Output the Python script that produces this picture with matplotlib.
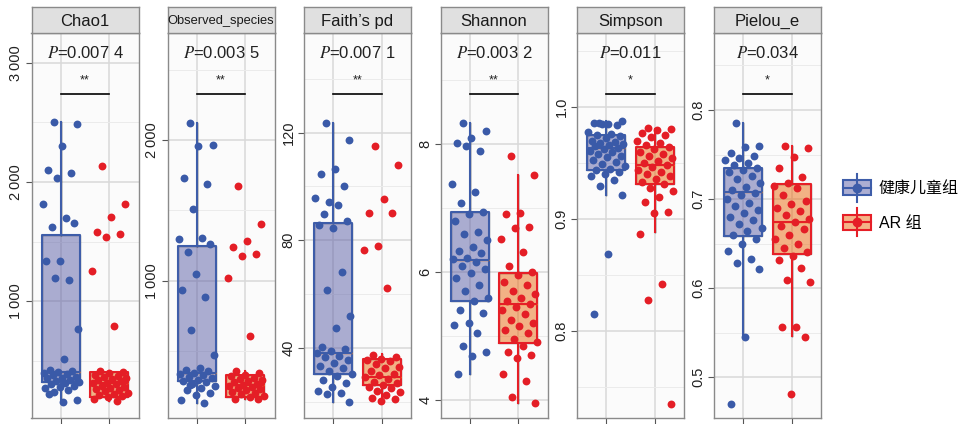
"""Alpha diversity boxplots: healthy children vs AR group."""

import matplotlib

matplotlib.use("Agg")
import matplotlib.pyplot as plt
import matplotlib.transforms as mtransforms
import numpy as np
from matplotlib.legend_handler import HandlerBase
from matplotlib.lines import Line2D
from matplotlib.patches import Rectangle

plt.rcParams["font.family"] = ["Liberation Sans", "Noto Sans CJK SC", "DejaVu Sans"]
plt.rcParams["mathtext.fontset"] = "stix"

# ---- data ----
metrics = ["Chao1", "Observed_species", "Faith\u2019s pd", "Shannon", "Simpson", "Pielou_e"]
group_labels = ["健康儿童组", "AR 组"]
p_labels = ["0.007 4", "0.003 5", "0.007 1", "0.003 2", "0.011", "0.034"]
sig_labels = ["**", "**", "**", "**", "*", "*"]

chao1_healthy = [2504, 2487, 2303, 2101, 2076, 2034, 1815, 1698, 1622, 1656, 1336, 1340, 1176,
                 1193, 765, 513, 420, 410, 400, 395, 385, 375, 365, 355, 350, 340, 330, 320,
                 310, 300, 290, 280, 265, 250, 235, 168, 151, 220]
chao1_ar = [2134, 1815, 1706, 1580, 1563, 1538, 1252, 790, 415, 405, 395, 380, 370, 360, 350,
            345, 335, 325, 315, 310, 300, 290, 280, 270, 260, 250, 240, 230, 220, 210, 200,
            190, 175, 160]
obs_healthy = [2121, 1965, 1957, 1730, 1688, 1511, 1298, 1305, 1206, 1260, 1050, 936, 887, 652,
               475, 380, 370, 360, 350, 340, 330, 320, 310, 300, 290, 280, 270, 255, 240, 225,
               206, 190, 156, 135, 260]
obs_ar = [1674, 1404, 1284, 1241, 1191, 1177, 1021, 610, 360, 345, 335, 325, 315, 305, 300, 290,
          280, 272, 265, 258, 250, 240, 232, 225, 215, 205, 195, 185, 175, 165, 160]
faith_healthy = [123.7, 117.4, 106.6, 104.7, 100.3, 94.3, 95.8, 93.2, 89.9, 87.3, 84.7, 85.8,
                 68.3, 61.6, 52.0, 47.5, 40.5, 39.5, 38.8, 38.0, 37.2, 36.5, 35.5, 34.4, 33.5,
                 32.5, 31.5, 30.5, 29.5, 28.0, 27.0, 25.5, 24.0, 23.3, 23.0, 20.0]
faith_ar = [115, 108, 95.4, 90, 90, 78, 76.5, 62.3, 37.5, 36.8, 36, 35.5, 35, 34, 33, 32.5, 31.5,
            30.5, 30, 29.2, 28.5, 27.5, 27, 26.3, 25.5, 25, 24, 23.5, 22.5, 21.5, 21, 20.2]
shannon_healthy = [8.33, 8.2, 8.09, 8.02, 7.89, 7.97, 7.38, 7.25, 7.08, 6.94, 6.9, 6.8, 6.62,
                   6.59, 6.5, 6.39, 6.33, 6.3, 6.22, 6.2, 6.15, 6.1, 6.05, 5.98, 5.9, 5.8, 5.7,
                   5.6, 5.55, 5.41, 5.36, 5.2, 5.17, 5.05, 4.84, 4.75, 4.69, 4.41]
shannon_ar = [7.81, 7.52, 6.92, 6.90, 6.70, 6.68, 6.52, 6.31, 6.1, 6.0, 5.95, 5.85, 5.8, 5.7,
              5.65, 5.6, 5.55, 5.5, 5.45, 5.4, 5.35, 5.25, 5.2, 5.15, 5.1, 5.05, 4.95, 4.9,
              4.85, 4.75, 4.7, 4.65, 4.4, 4.3, 4.05, 3.95]
simpson_healthy = [0.986, 0.987, 0.985, 0.986, 0.984, 0.985, 0.978, 0.976, 0.975, 0.974, 0.972,
                   0.970, 0.969, 0.968, 0.967, 0.966, 0.965, 0.963, 0.962, 0.961, 0.960, 0.958,
                   0.956, 0.955, 0.953, 0.951, 0.949, 0.947, 0.945, 0.944, 0.942, 0.940, 0.938,
                   0.935, 0.929, 0.921, 0.869, 0.815]
simpson_ar = [0.981, 0.980, 0.979, 0.977, 0.975, 0.973, 0.970, 0.968, 0.966, 0.964, 0.962, 0.960,
              0.958, 0.956, 0.954, 0.952, 0.950, 0.948, 0.946, 0.944, 0.942, 0.940, 0.938, 0.936,
              0.933, 0.931, 0.928, 0.925, 0.920, 0.915, 0.906, 0.905, 0.887, 0.842, 0.828, 0.735]
pielou_healthy = [0.785, 0.760, 0.758, 0.752, 0.748, 0.746, 0.744, 0.740, 0.738, 0.735, 0.733,
                  0.730, 0.726, 0.722, 0.718, 0.714, 0.710, 0.707, 0.704, 0.700, 0.696, 0.692,
                  0.688, 0.684, 0.680, 0.676, 0.672, 0.668, 0.664, 0.660, 0.655, 0.650, 0.642,
                  0.633, 0.628, 0.621, 0.545, 0.470]
pielou_ar = [0.760, 0.757, 0.747, 0.735, 0.725, 0.718, 0.715, 0.712, 0.705, 0.698, 0.694, 0.690,
             0.686, 0.682, 0.678, 0.674, 0.670, 0.666, 0.660, 0.655, 0.650, 0.645, 0.640, 0.636,
             0.632, 0.622, 0.609, 0.607, 0.556, 0.556, 0.545, 0.481]

healthy_values = [chao1_healthy, obs_healthy, faith_healthy, shannon_healthy, simpson_healthy,
                  pielou_healthy]
ar_values = [chao1_ar, obs_ar, faith_ar, shannon_ar, simpson_ar, pielou_ar]

# box stats as drawn: (q1, median, q3, whisker low, whisker high)
healthy_box = [(320, 400, 1555, 150, 2500), (290, 345, 1248, 135, 2121),
               (30.4, 38.2, 86.5, 20, 123.7), (5.55, 6.19, 6.94, 4.41, 8.33),
               (0.944, 0.963, 0.975, 0.921, 0.987), (0.658, 0.708, 0.735, 0.545, 0.785)]
ar_box = [(193, 311, 404, 160, 415), (177, 262, 333, 160, 360),
          (26.3, 29.2, 36.0, 20, 37.8), (4.89, 5.50, 5.98, 3.95, 7.52),
          (0.931, 0.948, 0.964, 0.888, 0.980), (0.638, 0.674, 0.717, 0.546, 0.760)]

y_limits = [(17, 3252), (28, 2759), (14, 157), (3.72, 9.73), (0.7223, 1.066), (0.454, 0.8865)]
major_ticks = [[1000, 2000, 3000], [1000, 2000], [40, 80, 120], [4, 6, 8], [0.8, 0.9, 1.0],
               [0.5, 0.6, 0.7, 0.8]]
tick_labels = [["1\u2009000", "2\u2009000", "3\u2009000"], ["1\u2009000", "2\u2009000"],
               ["40", "80", "120"], ["4", "6", "8"], ["0.8", "0.9", "1.0"],
               ["0.5", "0.6", "0.7", "0.8"]]
minor_ticks = [[500, 1500, 2500], [500, 1500, 2500], [20, 60, 100, 140], [5, 7, 9],
               [0.75, 0.85, 0.95, 1.05], [0.55, 0.65, 0.75, 0.85]]

edge_colors = ["#3e5da9", "#e61f27"]
fill_colors = ["#5b5ea6", "#ea6a10"]
point_colors = ["#3a5aa8", "#e41e26"]


class BoxHandler(HandlerBase):
    """Legend glyph: small box with median, whisker and a dot."""

    def __init__(self, edge, fill):
        super().__init__()
        self.edge = edge
        self.fill = fill

    def create_artists(self, legend, orig_handle, xdescent, ydescent, width, height,
                       fontsize, trans):
        bh = height * 0.8
        y0 = -ydescent + (height - bh) / 2
        rect = Rectangle((-xdescent, y0), width, bh, facecolor=self.fill, alpha=0.5,
                         edgecolor="none", transform=trans)
        rect_edge = Rectangle((-xdescent, y0), width, bh, facecolor="none",
                              edgecolor=self.edge, lw=1.5, transform=trans)
        cx = -xdescent + width / 2
        cy = -ydescent + height / 2
        whisk = Line2D([cx, cx], [cy - height * 0.75, cy + height * 0.75], color=self.edge,
                       lw=1.5, transform=trans)
        med = Line2D([-xdescent, -xdescent + width], [cy, cy], color=self.edge, lw=1.5,
                     transform=trans)
        dot = Line2D([cx], [cy], marker="o", ms=6, color=self.edge, transform=trans)
        return [rect, rect_edge, whisk, med, dot]


fig = plt.figure(figsize=(9.58, 4.24), dpi=100)
W, H = 958, 424
panel_left = [31.5, 167.5, 304, 440.5, 577, 714]
panel_w = 107
plot_top, plot_bottom, strip_top = 33, 418, 7

for i, metric in enumerate(metrics):
    ax = fig.add_axes([panel_left[i] / W, 1 - plot_bottom / H, panel_w / W,
                       (plot_bottom - plot_top) / H])
    ax.set_facecolor("#fbfbfb")
    ax.set_ylim(*y_limits[i])
    ax.set_yticks(major_ticks[i])
    ax.set_yticklabels(tick_labels[i], rotation=90, va="center")
    ax.set_yticks(minor_ticks[i], minor=True)
    ax.grid(which="major", color="#d9d9d9", lw=1.1)
    ax.grid(which="minor", axis="y", color="#ebebeb", lw=0.7)
    ax.set_axisbelow(True)
    ax.tick_params(axis="y", which="major", length=4, width=0.8, color="#555555",
                   labelsize=10.5, pad=2, labelcolor="#222222")
    ax.tick_params(axis="y", which="minor", length=0)
    ax.tick_params(axis="x", length=5, width=0.8, color="#555555")
    for sp in ax.spines.values():
        sp.set_color("#8a8a8a")
        sp.set_linewidth(1.0)

    for g, (vals, box) in enumerate(zip([healthy_values[i], ar_values[i]],
                                        [healthy_box[i], ar_box[i]])):
        q1, med, q3, lo, hi = box
        stats = [{"q1": q1, "med": med, "q3": q3, "whislo": lo, "whishi": hi, "fliers": []}]
        bp = ax.bxp(stats, positions=[g + 1], widths=0.78, patch_artist=True,
                    showcaps=False, showfliers=False)
        for patch in bp["boxes"]:
            patch.set_facecolor(fill_colors[g])
            patch.set_alpha(0.5)
        ax.bxp(stats, positions=[g + 1], widths=0.78, showcaps=False, showfliers=False,
               boxprops={"color": edge_colors[g], "lw": 1.5},
               whiskerprops={"color": edge_colors[g], "lw": 1.5},
               medianprops={"color": edge_colors[g], "lw": 1.5})
        vals = np.asarray(vals)
        offs = ((np.arange(len(vals)) * 0.618034 + 0.31) % 1 - 0.5) * 0.76
        ax.scatter(g + 1 + offs, vals, s=32, color=point_colors[g], zorder=4, linewidths=0)
    ax.set_xticks([1, 2])
    ax.set_xticklabels([])
    ax.set_xlim(0.4, 2.6)

    trans = mtransforms.blended_transform_factory(ax.transData, ax.transAxes)
    ax.text(1.5, 0.948, f"$\\mathit{{P}}$={p_labels[i]}", transform=trans, ha="center",
            va="center", fontsize=12, color="#222222")
    ax.plot([1, 2], [0.842, 0.842], transform=trans, color="black", lw=1.2, clip_on=False)
    ax.text(1.5, 0.86, sig_labels[i], transform=trans, ha="center", va="bottom",
            fontsize=9, color="#222222")

    strip = fig.add_axes([panel_left[i] / W, 1 - plot_top / H, panel_w / W,
                          (plot_top - strip_top) / H])
    strip.set_facecolor("#e0e0e0")
    strip.set_xticks([])
    strip.set_yticks([])
    for sp in strip.spines.values():
        sp.set_color("#8a8a8a")
        sp.set_linewidth(1.0)
    strip.text(0.5, 0.45, metric, ha="center", va="center",
               fontsize=9.3 if len(metric) > 12 else 12, color="#1a1a1a")

handles = [Rectangle((0, 0), 1, 1), Rectangle((0, 0), 1, 1, label="b")]
fig.legend(handles, group_labels, loc="center left",
           bbox_to_anchor=(843 / W, 1 - 205 / H), frameon=False, fontsize=11.5,
           handlelength=1.75, handleheight=1.4, labelspacing=1.0, handletextpad=0.5,
           borderpad=0, borderaxespad=0,
           handler_map={handles[0]: BoxHandler(edge_colors[0], fill_colors[0]),
                        handles[1]: BoxHandler(edge_colors[1], fill_colors[1])})

fig.savefig("out.png", dpi=100, facecolor="white")
